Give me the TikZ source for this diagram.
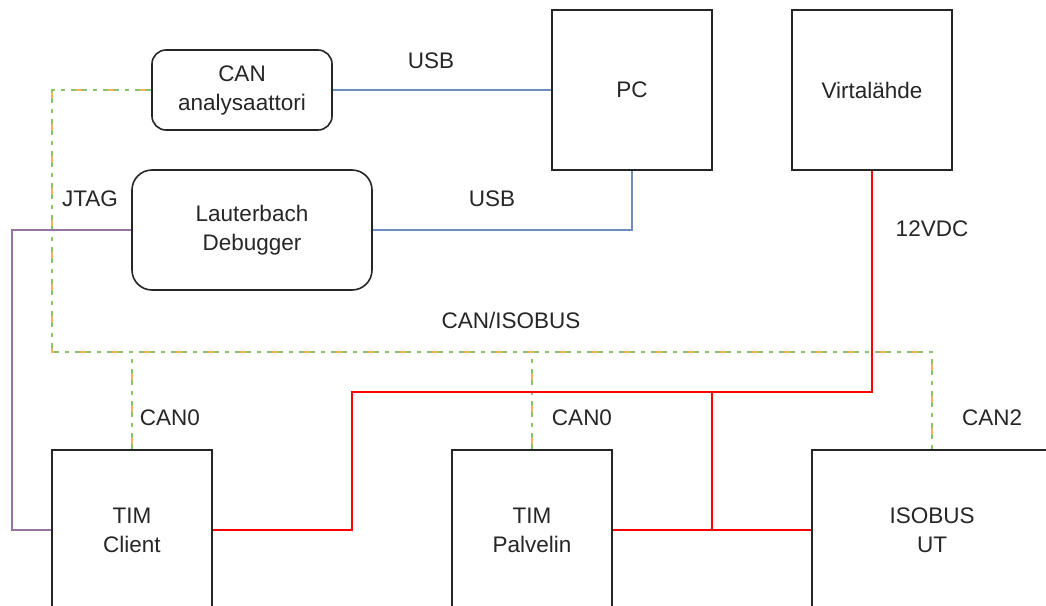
\documentclass[tikz,border=0pt]{standalone}
\usepackage{fontspec}
\setmainfont{Liberation Sans}
\definecolor{usbblue}{HTML}{6C8EBF}
\definecolor{jtagpurple}{HTML}{9673A6}
\definecolor{busgreen}{HTML}{8CC26A}
\definecolor{busorange}{HTML}{F0B45A}
\begin{document}
\begin{tikzpicture}[x=1pt,y=-1pt,
  every node/.style={font=\fontsize{22.5}{29}\selectfont, text=black!85},
  blk/.style={draw=black!85, line width=1.6pt, align=center, inner sep=0pt},
  rblk/.style={blk, rounded corners=14pt},
  lbl/.style={inner sep=0pt},
  usb/.style={usbblue, line width=1.4pt},
  jtag/.style={jtagpurple, line width=1.4pt},
  pwr/.style={red, line width=1.6pt},
  busg/.style={busgreen, line width=1.8pt, dash pattern=on 16pt off 6pt on 4pt off 6pt},
  buso/.style={busorange, line width=1.2pt, dash pattern=on 6pt off 26pt, dash phase=-5pt}
]
\useasboundingbox (0,0) rectangle (1046,605);
\fill[white] (0,0) rectangle (1046,605);

% blocks
\node[rblk, minimum width=180pt, minimum height=80pt] (can) at (242,90) {CAN\\analysaattori};
\node[blk, minimum width=160pt, minimum height=160pt] (pc) at (632,90) {PC};
\node[blk, minimum width=160pt, minimum height=160pt] (virta) at (872,90) {Virtalähde};
\node[rblk, rounded corners=20pt, minimum width=240pt, minimum height=120pt] (lauter) at (252,230) {Lauterbach\\Debugger};
\node[blk, minimum width=160pt, minimum height=160pt] (timc) at (132,530) {TIM\\Client};
\node[blk, minimum width=160pt, minimum height=160pt] (timp) at (532,530) {TIM\\Palvelin};
\node[blk, minimum width=240pt, minimum height=160pt] (iso) at (932,530) {ISOBUS\\UT};

% junction coordinates
\coordinate (b0) at (52,352);
\coordinate (j1) at (352,392);
\coordinate (j2) at (712,392);
\coordinate (jt) at (12,230);

% CAN bus
\foreach \s in {busg,buso}{
  \draw[\s] (can.west) -| (b0) -| (iso.north);
  \draw[\s] (timc.north) -- (timc.north |- b0);
  \draw[\s] (timp.north) -- (timp.north |- b0);
}

% USB
\draw[usb] (can.east) -- (pc.west);
\draw[usb] (lauter.east) -| (pc.south);

% JTAG
\draw[jtag] (lauter.west) -- (jt) |- (timc.west);

% power
\draw[pwr] (virta.south) |- (j1) |- (timc.east);
\draw[pwr] (timp.east) -- (iso.west);
\draw[pwr] (j2) -- (j2 |- iso.west);

% labels
\node[lbl] (lusb1) at (431,61) {USB};
\node[lbl] (lusb2) at (492,199) {USB};
\node[lbl] (ljtag) at (90,199) {JTAG};
\node[lbl] (l12) at (932,229) {12VDC};
\node[lbl] (lbus) at (511,320) {CAN/ISOBUS};
\node[lbl] (lc0a) at (170,418) {CAN0};
\node[lbl] (lc0b) at (582,418) {CAN0};
\node[lbl] (lc2) at (992,418) {CAN2};
\end{tikzpicture}
\end{document}
